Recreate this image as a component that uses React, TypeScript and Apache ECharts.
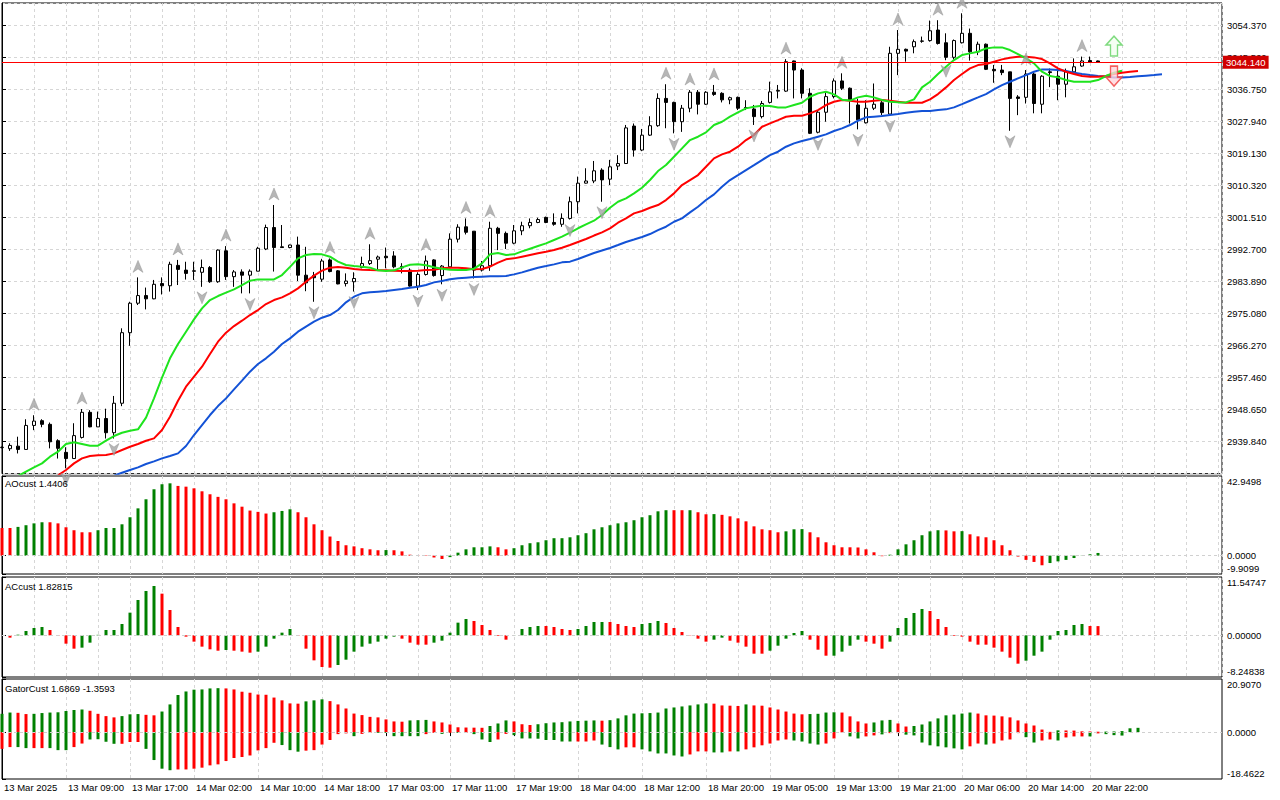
import React, { useEffect, useRef } from "react";
import * as echarts from "echarts";

// ---------- data ----------
const timeLabels = [
  "13 Mar 2025", "13 Mar 09:00", "13 Mar 17:00", "14 Mar 02:00", "14 Mar 10:00", "14 Mar 18:00",
  "17 Mar 03:00", "17 Mar 11:00", "17 Mar 19:00", "18 Mar 04:00", "18 Mar 12:00", "18 Mar 20:00",
  "19 Mar 05:00", "19 Mar 13:00", "19 Mar 21:00", "20 Mar 06:00", "20 Mar 14:00", "20 Mar 22:00",
];

// [open, close, low, high] per H1 bar
const ohlc: number[][] = [
  [2938.2, 2938.3, 2938.0, 2938.5], [2937.9, 2938.8, 2937.3, 2939.4], [2938.6, 2937.7, 2936.6, 2941.2], [2937.7, 2944.3, 2937.7, 2946.0],
  [2944.3, 2945.5, 2943.0, 2947.1], [2945.6, 2944.6, 2943.8, 2946.0], [2944.6, 2939.8, 2938.0, 2945.1], [2940.1, 2938.0, 2935.2, 2940.5],
  [2936.9, 2935.2, 2932.5, 2938.3], [2935.2, 2941.5, 2935.2, 2944.9], [2941.0, 2947.9, 2940.7, 2948.8], [2947.9, 2943.9, 2943.8, 2948.5],
  [2943.9, 2946.2, 2943.9, 2948.1], [2946.2, 2942.3, 2940.7, 2948.9], [2942.3, 2950.4, 2940.7, 2952.4], [2950.4, 2969.8, 2949.6, 2971.0],
  [2969.8, 2977.9, 2966.2, 2978.3], [2977.9, 2980.0, 2977.4, 2985.0], [2980.0, 2979.1, 2976.2, 2982.2], [2979.1, 2983.1, 2979.0, 2984.3],
  [2983.3, 2982.7, 2980.3, 2985.0], [2982.7, 2988.6, 2981.1, 2989.3], [2988.3, 2987.2, 2982.9, 2989.8], [2987.0, 2986.1, 2984.4, 2989.3],
  [2986.8, 2986.7, 2984.3, 2989.3], [2986.4, 2987.7, 2982.4, 2989.9], [2987.7, 2983.8, 2983.5, 2988.1], [2983.8, 2992.5, 2983.5, 2992.7],
  [2992.3, 2985.2, 2984.3, 2993.6], [2985.2, 2986.5, 2982.4, 2987.0], [2986.5, 2985.6, 2980.6, 2987.2], [2985.6, 2986.7, 2980.6, 2987.2],
  [2986.7, 2993.0, 2986.7, 2993.4], [2992.8, 2998.7, 2992.5, 2999.5], [2998.7, 2993.2, 2986.6, 3004.9], [2993.4, 2993.2, 2993.2, 2999.4],
  [2993.2, 2993.9, 2993.0, 2994.0], [2993.9, 2985.6, 2984.0, 2996.2], [2985.6, 2983.5, 2981.2, 2993.4], [2985.5, 2984.9, 2978.3, 2986.5],
  [2984.5, 2989.5, 2983.8, 2990.1], [2989.8, 2986.6, 2986.4, 2990.2], [2986.8, 2983.2, 2983.1, 2987.0], [2983.3, 2984.0, 2982.5, 2986.1],
  [2983.8, 2984.7, 2981.1, 2986.4], [2987.7, 2988.8, 2987.5, 2990.7], [2988.8, 2989.6, 2988.4, 2994.1], [2990.0, 2990.6, 2987.0, 2991.0],
  [2990.8, 2990.4, 2987.5, 2993.2], [2990.9, 2987.9, 2987.5, 2992.2], [2988.0, 2987.6, 2986.1, 2988.9], [2987.0, 2982.6, 2982.4, 2987.5],
  [2982.6, 2985.8, 2981.5, 2986.4], [2985.8, 2989.5, 2985.5, 2991.0], [2989.8, 2985.5, 2985.2, 2990.0], [2985.5, 2988.1, 2983.1, 2988.4],
  [2987.9, 2995.5, 2987.5, 2997.1], [2995.5, 2998.8, 2994.6, 2999.6], [2998.9, 2997.4, 2996.8, 3001.2], [2997.7, 2987.0, 2984.7, 2997.7],
  [2987.0, 2988.2, 2986.6, 2989.5], [2988.2, 2998.5, 2986.8, 3000.3], [2998.5, 2997.1, 2992.5, 2998.9], [2997.1, 2994.4, 2992.8, 2997.6],
  [2994.4, 2997.8, 2994.1, 2999.4], [2997.8, 2999.2, 2996.6, 3000.3], [2999.2, 3000.1, 2998.5, 3001.2], [3000.1, 3000.9, 2999.9, 3001.4],
  [3001.5, 3000.1, 2999.9, 3001.7], [3000.1, 2999.6, 2999.2, 3002.6], [2999.6, 3001.2, 2998.9, 3002.6], [3001.2, 3005.8, 3000.9, 3007.2],
  [3005.8, 3010.9, 3002.6, 3012.7], [3010.9, 3011.5, 3010.8, 3015.0], [3011.5, 3014.3, 3010.9, 3017.0], [3014.5, 3011.8, 3005.8, 3015.0],
  [3012.0, 3015.4, 3010.4, 3017.3], [3015.6, 3016.3, 3014.5, 3018.6], [3016.3, 3026.1, 3016.3, 3026.9], [3026.6, 3020.0, 3018.2, 3027.3],
  [3020.0, 3024.1, 3019.7, 3025.8], [3024.1, 3026.7, 3023.9, 3029.3], [3026.7, 3034.2, 3026.4, 3035.6], [3034.2, 3033.1, 3026.0, 3038.1],
  [3033.1, 3027.8, 3024.6, 3033.3], [3027.8, 3031.5, 3025.0, 3032.4], [3031.5, 3035.9, 3030.4, 3036.5], [3035.9, 3032.6, 3029.8, 3036.5],
  [3032.6, 3035.9, 3032.4, 3036.2], [3035.9, 3035.3, 3034.9, 3037.9], [3035.6, 3033.8, 3033.1, 3035.9], [3033.8, 3034.4, 3032.6, 3034.7],
  [3034.5, 3031.5, 3031.0, 3034.7], [3031.7, 3031.6, 3031.0, 3033.7], [3031.3, 3029.2, 3026.9, 3032.4], [3029.2, 3032.8, 3028.7, 3033.5],
  [3033.1, 3036.0, 3032.8, 3038.8], [3036.2, 3036.4, 3034.2, 3037.9], [3036.2, 3044.3, 3036.0, 3045.0], [3044.5, 3042.0, 3034.2, 3044.6],
  [3042.0, 3035.6, 3034.2, 3042.5], [3035.6, 3024.6, 3024.4, 3037.0], [3024.9, 3030.4, 3024.6, 3031.0], [3030.4, 3034.7, 3027.8, 3036.0],
  [3034.7, 3039.0, 3034.2, 3039.7], [3039.0, 3037.0, 3036.5, 3041.1], [3037.0, 3033.7, 3027.3, 3037.2], [3032.4, 3028.3, 3025.7, 3034.1],
  [3027.5, 3031.5, 3027.3, 3033.7], [3031.5, 3032.6, 3031.0, 3038.3], [3033.0, 3030.3, 3029.6, 3033.7], [3029.9, 3046.6, 3029.6, 3048.4],
  [3046.6, 3047.7, 3040.6, 3053.0], [3047.7, 3047.2, 3044.3, 3047.9], [3048.4, 3049.8, 3046.6, 3050.4], [3049.9, 3050.0, 3049.5, 3051.2],
  [3050.1, 3052.8, 3049.8, 3055.6], [3053.0, 3049.3, 3049.0, 3055.7], [3049.5, 3045.5, 3044.7, 3052.1], [3045.5, 3050.1, 3044.9, 3050.4],
  [3049.5, 3052.1, 3049.3, 3057.6], [3052.1, 3047.0, 3044.6, 3053.4], [3047.0, 3049.1, 3046.1, 3049.8], [3049.1, 3042.2, 3042.0, 3049.3],
  [3042.2, 3041.8, 3038.5, 3043.4], [3042.0, 3041.3, 3040.6, 3043.4], [3041.5, 3034.2, 3025.3, 3041.5], [3034.6, 3034.2, 3029.6, 3035.1],
  [3034.5, 3040.9, 3032.8, 3042.0], [3040.9, 3032.8, 3030.1, 3041.3], [3032.6, 3040.3, 3030.1, 3040.6], [3041.5, 3041.3, 3037.3, 3042.4],
  [3040.3, 3038.1, 3033.7, 3042.9], [3038.1, 3041.5, 3034.5, 3042.4], [3041.5, 3042.9, 3041.3, 3045.2], [3043.1, 3044.5, 3042.9, 3045.7],
  [3044.6, 3044.2, 3044.2, 3045.7], [3044.5, 3044.14, 3044.0, 3044.6],
];

const lastPrice = 3044.14;

// Alligator (values already shifted forward, first value belongs to bar *Start)
const lipsStart = 2;
const lips = [
  2930.4, 2931.58, 2932.77, 2933.87, 2935.71, 2937.08, 2939.19, 2939.65,
  2939.19, 2938.73, 2938.73, 2940.10, 2941.39, 2942.30, 2942.85, 2943.22, 2946.43, 2951.74,
  2957.42, 2962.74, 2966.68, 2970.07, 2973.46, 2976.48, 2978.77, 2979.87, 2980.79, 2981.70,
  2982.90, 2984.09, 2984.45, 2984.45, 2984.45, 2985.65, 2987.9, 2990.23, 2991.15, 2991.42,
  2991.33, 2990.69, 2989.32, 2988.40, 2988.12, 2987.94, 2987.67, 2986.93, 2986.75, 2986.93,
  2987.76, 2988.49, 2988.58, 2988.31, 2987.76, 2987.39, 2987.12, 2987.02, 2987.02, 2987.39,
  2988.86, 2991.33, 2991.70, 2991.15, 2991.33, 2992.16, 2992.89, 2993.62, 2994.35, 2995.27,
  2996.19, 2997.29, 2998.5, 2999.57, 3000.58, 3002.14, 3004.15, 3005.80, 3006.72, 3008.09,
  3009.65, 3011.76, 3014.23, 3015.88, 3018.17, 3020.46, 3022.75, 3023.67, 3024.86, 3026.88,
  3027.79, 3029.17, 3030.36, 3031.46, 3031.92, 3032.19, 3032.10, 3031.73, 3031.73, 3032.38,
  3033.02, 3034.67, 3035.58, 3036.04, 3035.31, 3033.85, 3033.6, 3034.48, 3034.94, 3034.48,
  3033.75, 3033.29, 3033.11, 3033.11, 3033.93, 3037.23, 3038.79, 3040.90, 3042.91, 3044.75,
  3046.12, 3046.58, 3047.04, 3047.95, 3048.23, 3048.23, 3047.50, 3046.40, 3045.20, 3043.83,
  3041.54, 3040.35, 3039.98, 3039.25, 3038.79, 3038.79, 3038.79, 3039.25, 3040.35, 3041.26,
  3041.81,
];
const teethStart = 7;
const teeth = [
  2930.6, 2932.04, 2933.87,
  2935.25, 2935.89, 2936.07, 2936.16, 2936.62, 2937.54, 2938.45, 2939.19, 2940.10, 2940.75,
  2943.04, 2946.70, 2951.10, 2954.95, 2957.70, 2960.45, 2963.93, 2967.32, 2969.79, 2971.62,
  2973.09, 2974.65, 2976.02, 2977.67, 2978.77, 2979.51, 2980.61, 2981.98, 2983.82, 2985.47,
  2986.84, 2987.67, 2987.85, 2987.67, 2987.30, 2987.12, 2987.02, 2986.93, 2986.93, 2986.84,
  2986.75, 2986.75, 2986.84, 2987.02, 2987.12, 2987.48, 2987.67, 2987.67, 2987.48, 2987.21,
  2987.30, 2987.94, 2989.04, 2989.96, 2990.23, 2990.69, 2991.15, 2991.61, 2992.06, 2992.52,
  2993.16, 2993.90, 2994.72, 2995.54, 2996.50, 2997.37, 2998.47, 3000.03, 3001.22, 3002.60,
  3003.24, 3004.15, 3004.89, 3006.26, 3008.09, 3010.38, 3011.76, 3013.13, 3015.42, 3017.71,
  3018.81, 3019.55, 3020.92, 3022.75, 3024.13, 3026.42, 3027.34, 3028.25, 3029.17, 3029.44,
  3029.44, 3030.08, 3031.00, 3032.38, 3033.29, 3033.75, 3033.57, 3033.29, 3033.29, 3033.57,
  3033.75, 3033.57, 3033.29, 3033.02, 3033.02, 3033.02, 3033.93, 3035.40, 3037.23, 3039.25,
  3040.90, 3042.46, 3043.37, 3043.65, 3044.29, 3044.93, 3045.39, 3045.66, 3045.66, 3045.48,
  3045.02, 3043.83, 3042.46, 3041.54, 3040.90, 3040.35, 3040.17, 3040.17, 3040.35, 3040.90,
  3041.26, 3041.54, 3041.72,
];
const jawStart = 14;
const jaw = [
  2930.5, 2931.31, 2932.04, 2932.77, 2933.69, 2934.42,
  2935.25, 2935.89, 2936.62, 2938.64, 2941.66, 2944.41, 2947.16, 2949.63, 2951.74, 2954.22,
  2956.60, 2959.07, 2961.18, 2962.74, 2964.57, 2966.68, 2968.23, 2970.07, 2971.45, 2972.82,
  2973.92, 2974.65, 2976.03, 2978.14, 2979.69, 2980.61, 2980.89, 2981.07, 2981.25, 2981.53,
  2981.80, 2982.17, 2982.44, 2982.90, 2983.63, 2984.00, 2984.46, 2984.73, 2984.92, 2985.10,
  2985.19, 2985.28, 2985.28, 2985.38, 2985.83, 2986.38, 2987.02, 2987.67, 2988.12, 2988.58,
  2989.13, 2989.32, 2990.04, 2990.87, 2991.69, 2992.38, 2993.07, 2993.89, 2994.72, 2995.40,
  2996.09, 2996.91, 2998.01, 2998.93, 3000.30, 3001.22, 3002.87, 3004.43, 3006.26, 3007.82,
  3009.93, 3011.76, 3013.13, 3014.51, 3015.88, 3017.26, 3018.63, 3019.55, 3020.92, 3021.84,
  3022.48, 3023.03, 3023.67, 3024.31, 3025.23, 3025.96, 3026.88, 3028.07, 3028.99, 3029.17,
  3029.35, 3029.63, 3029.90, 3030.27, 3030.54, 3030.73, 3030.73, 3031.00, 3031.19, 3031.74,
  3032.65, 3033.57, 3034.48, 3035.40, 3036.68, 3037.87, 3038.79, 3039.71, 3040.62, 3041.54,
  3042.18, 3042.18, 3042.00, 3041.72, 3041.26, 3040.90, 3040.62, 3040.35, 3040.17, 3039.98,
  3039.98, 3040.07, 3040.26, 3040.44, 3040.62, 3040.81,
];

// Bill Williams fractals (bar indices)
const upFractals = [4, 10, 17, 22, 28, 34, 41, 46, 53, 58, 61, 83, 86, 89, 98, 105, 112, 117, 120, 128, 135];
const downFractals = [8, 14, 25, 31, 39, 44, 52, 55, 59, 71, 75, 84, 94, 102, 107, 111, 118, 126];

// signal arrows [bar, price]
const buySignal = [[139, 3048.6]];
const sellSignal = [[139, 3040.35]];

// Awesome Oscillator
const aoValues = [
  14.9, 14.9, 15.5, 16.4, 17.4, 18.0, 18.0, 17.4, 15.3, 13.7,
  12.6, 12.6, 13.7, 14.9, 14.9, 16.9, 20.7, 25.5, 30.4, 35.8,
  38.5, 39.0, 37.6, 37.2, 36.3, 34.7, 33.1, 31.7, 30.4, 28.2,
  26.4, 24.3, 23.6, 22.7, 23.4, 24.1, 25.0, 23.4, 20.7, 16.9,
  13.7, 10.3, 7.9, 5.6, 5.0, 4.0, 3.4, 2.9, 3.0, 2.9,
  2.3, 0.5, 0.2, -0.2, -1.0, -1.8, -0.8, 1.6, 3.4, 4.5,
  4.5, 5.0, 4.5, 3.4, 4.0, 5.6, 6.7, 7.2, 8.3, 9.4,
  9.4, 9.9, 11.0, 12.1, 14.2, 15.3, 16.4, 17.4, 18.0, 19.1,
  20.7, 21.8, 23.9, 24.5, 24.5, 24.5, 24.5, 23.4, 22.3, 22.4,
  22.0, 21.2, 20.1, 18.5, 15.8, 14.2, 13.7, 12.6, 13.1, 14.2,
  14.3, 12.6, 9.9, 7.2, 5.6, 4.5, 4.5, 4.4, 3.4, 1.8,
  -0.3, 0.5, 3.4, 6.1, 8.3, 11.0, 13.1, 13.7, 13.6, 13.1,
  13.2, 11.5, 10.4, 9.9, 8.3, 5.6, 2.9, -0.5, -2.3, -3.4,
  -5.2, -4.0, -3.1, -2.3, -1.3, 0.1, 0.7, 1.4406,
];
const aoColors =
  "RRGGGGRRRRRRGGGGGGGGGGRRRRRRRRRRRRGGGRRRRRRRRRRRGRRRRRRRGGGGGGRRGGGGGG" +
  "GGGGGGGGGGGGGGRRGRRGRRRRRRRRGGGRRRRRRRRRRGGGGGGGRRGRRRRRRRRRRGGGGGGG";

// Accelerator Oscillator
const acValues: (number | null)[] = [
  null, -0.46, 0.13, 0.86, 1.45, 1.65, 1.06, -0.1, -1.65, -2.64,
  -2.44, -1.45, 0.1, 1.06, 1.06, 2.24, 4.49, 7.0, 8.78, 9.77,
  8.25, 5.02, 1.65, -0.26, -1.25, -2.24, -2.77, -3.04, -2.90, -3.04,
  -3.23, -3.43, -3.23, -2.24, -0.66, 0.53, 1.25, -0.1, -2.64, -4.95,
  -6.27, -6.40, -5.87, -4.82, -3.23, -2.24, -1.65, -1.25, -0.66, -0.26,
  -0.66, -1.45, -1.85, -1.85, -1.45, -1.06, 0.53, 2.51, 3.23, 2.84,
  2.05, 1.06, -0.13, -0.86, 0.05, 1.25, 1.65, 1.85, 1.85, 1.65,
  1.25, 1.06, 1.25, 1.85, 2.64, 2.64, 2.64, 2.24, 1.85, 1.65,
  2.24, 2.44, 2.84, 2.44, 1.45, 0.66, -0.05, -0.66, -1.25, -0.86,
  -0.46, -1.06, -1.45, -2.24, -3.63, -3.63, -3.04, -2.05, -0.66, 0.46,
  0.86, -0.86, -2.84, -4.03, -4.03, -3.23, -2.05, -0.86, -1.25, -1.65,
  -2.64, -1.25, 1.45, 3.43, 4.42, 5.21, 4.82, 3.23, 1.65, -0.13,
  -0.26, -1.25, -1.85, -1.85, -2.44, -3.23, -4.42, -5.61, -5.02, -4.03,
  -3.23, -0.86, 0.86, 1.06, 2.05, 2.24, 1.85, 1.82815,
];
const acColors =
  "RRGGGGRRRRGGGGGGGGGGRRRRRRRRGRRRGGGGGRRRRRGGGGGGGGRRRRGGGGGRRRRRGGGGRR" +
  "RRGGGGRRRRGGGRRRRRRGGRRRRRGGGGGRRRGGGGRRRGGGGGRRRRRRRRRRRRGGGGGGGGRR";

// Gator oscillator
const gatorUp = [
  7.2, 7.7, 7.6, 7.1, 7.2, 7.5, 7.7, 7.8, 8.3, 8.7,
  8.9, 8.4, 7.2, 6.3, 5.8, 6.3, 7.0, 7.1, 6.8, 6.6,
  8.1, 10.9, 14.6, 16.0, 16.7, 16.8, 17.2, 17.3, 17.2, 16.8,
  15.9, 15.5, 14.8, 14.7, 13.6, 12.5, 11.3, 11.2, 12.1, 12.5,
  12.9, 12.2, 10.9, 9.3, 7.3, 6.7, 6.0, 5.8, 5.0, 4.2,
  4.1, 4.6, 4.7, 4.8, 4.2, 3.8, 3.0, 1.9, 1.8, 1.75,
  1.7, 2.4, 3.4, 4.6, 4.2, 3.1, 2.8, 3.1, 3.5, 3.8,
  3.9, 4.2, 4.4, 4.5, 4.6, 4.5, 4.7, 5.4, 6.6, 7.3,
  7.4, 7.5, 7.7, 9.3, 9.7, 10.1, 10.5, 10.9, 11.3, 11.2,
  10.5, 10.4, 10.3, 10.9, 10.5, 10.4, 9.7, 8.9, 8.1, 7.3,
  7.0, 7.1, 7.2, 7.7, 7.8, 7.7, 6.2, 4.2, 3.4, 3.8,
  4.6, 4.8, 3.4, 2.2, 2.4, 3.0, 4.2, 5.4, 6.6, 6.9,
  7.3, 7.7, 7.3, 6.6, 6.5, 6.2, 5.8, 4.6, 3.4, 2.6,
  1.0, 0.1, 0.7, 0.65, 0.6, 0.3, 0.25, 0.15, 0.2, 0.25,
  0.4, 1.5, 1.6869,
];
const gatorUpColors =
  "GGRRGGGGGGGRRRRGGGRRGGGGGGGGRRRRRRRRRRGGGRRRRRRRRRRGGGRRRRRRRGGGRRRGGG" +
  "GGGGGRGGGGGGGGGGGGGRRRRGRRRRRRRGGGGRRRRGGGRRGGGGGGGGRRRRRRRRRRGRRRRRGGGGG";
const gatorDown = [
  -6.6, -5.9, -5.9, -6.3, -6.3, -6.3, -6.3, -7.1, -7.1, -5.9,
  -4.5, -2.9, -2.8, -3.8, -4.6, -4.6, -3.9, -3.9, -6.6, -11.0,
  -14.4, -15.0, -14.7, -14.7, -14.4, -14.0, -13.1, -12.7, -11.4, -10.2,
  -9.8, -9.2, -7.2, -6.3, -4.2, -5.1, -7.1, -7.7, -7.3, -7.1,
  -4.9, -3.1, -0.8, -0.5, -1.6, -0.7, -0.3, -0.3, -0.3, -1.6,
  -1.6, -1.6, -1.6, -0.8, -0.3, -0.7, -0.3, -0.3, -0.3, -0.8,
  -2.9, -3.9, -2.9, -0.7, -1.2, -2.5, -2.5, -2.6, -3.1, -3.1,
  -3.7, -3.7, -3.7, -3.7, -3.3, -4.9, -5.9, -6.8, -6.0, -6.0,
  -6.8, -7.6, -8.4, -8.4, -9.2, -9.6, -8.8, -7.6, -7.6, -8.0,
  -8.0, -7.6, -7.6, -6.8, -6.0, -5.2, -4.5, -3.3, -2.9, -3.3,
  -3.7, -4.5, -4.9, -4.5, -2.5, -0.1, -1.7, -2.5, -1.7, -1.3,
  -0.9, -0.4, -0.4, -1.0, -1.3, -4.1, -5.2, -5.6, -6.0, -6.4,
  -6.8, -5.6, -4.5, -4.9, -4.5, -3.3, -2.9, -0.4, -2.0, -4.1,
  -3.3, -2.9, -3.3, -2.1, -1.7, -1.7, -1.7, -0.5, -0.8, -1.2,
  -1.3593,
];
const gatorDownColors =
  "RRGGRRGGGRRGGGGRRRGGGGRRRRRRRRRRRRRGGGRRRRRRGRRGGGGGGRRGRGRGGGRRGGGGGG" +
  "GGRRRGGGRRGGGGGGRRRGGRGRRRRRRGGGGRRRGGRRGRRGGGGGGGGRRGRRRRGGRRGRRRGRGGG";

// ---------- styling ----------
const FONT = '"Liberation Sans", Arial, sans-serif';
const FS = 9.5;
const GREEN = "#008000";
const RED = "#ff0000";
const GRIDC = "#d6d6d6";
const XMAX = 152.5;

const colorOf = (c: string) => (c === "G" ? GREEN : RED);
const labelBars = timeLabels.map((_, i) => i * 8);

const gridBox = { left: 2, right: 58, show: true, borderColor: "#000", borderWidth: 1, backgroundColor: "#fff" };

function makeXAxis(i: number) {
  const bottom = i === 3;
  return {
    type: "value",
    gridIndex: i,
    min: 0,
    max: XMAX,
    interval: 4,
    axisLine: { show: false },
    axisTick: bottom
      ? { show: true, customValues: labelBars, length: 4, lineStyle: { color: "#000" } }
      : { show: false },
    axisLabel: bottom
      ? {
          show: true,
          customValues: labelBars,
          formatter: (v: number) => timeLabels[Math.round(v / 8)] ?? "",
          align: "left",
          padding: [0, 0, 0, 2],
          margin: 3,
          color: "#000",
          fontSize: FS,
          fontFamily: FONT,
        }
      : { show: false },
    splitLine: { show: true, lineStyle: { color: GRIDC, type: [3, 3], width: 1 } },
  };
}

function makeSubY(i: number, min: number, max: number, dec: number) {
  const vals = [min, 0, max];
  const txt = { fontSize: FS, fontFamily: FONT, color: "#000" };
  return {
    type: "value",
    gridIndex: i,
    position: "right",
    min,
    max,
    axisLine: { show: true, lineStyle: { color: "#000" } },
    axisTick: { show: true, customValues: vals, length: 4, lineStyle: { color: "#000" } },
    axisLabel: {
      customValues: vals,
      showMinLabel: true,
      showMaxLabel: true,
      margin: 5,
      ...txt,
      formatter: (v: number) => {
        const s = v.toFixed(dec);
        if (Math.abs(v - max) < 1e-9) return `{t|${s}}`;
        if (Math.abs(v - min) < 1e-9) return `{b|${s}}`;
        return s;
      },
      rich: { t: { ...txt, padding: [10, 0, 0, 0] }, b: { ...txt, padding: [0, 0, 11, 0] } },
    },
    splitLine: { show: false },
  };
}

const zeroLine = {
  silent: true,
  symbol: ["none", "none"],
  label: { show: false },
  lineStyle: { color: "#d0d0d0", type: [3, 3], width: 1 },
  data: [{ yAxis: 0 }],
};

const lineSeries = (name: string, start: number, vals: number[], color: string) => ({
  name,
  type: "line",
  xAxisIndex: 0,
  yAxisIndex: 0,
  data: vals.map((v, i) => [i + start, v]),
  showSymbol: false,
  symbol: "none",
  lineStyle: { width: 2, color },
  z: 3,
});

const histItems = (vals: (number | null)[], colors: string) =>
  vals
    .map((v, i) => (v == null ? null : { value: [i, v], itemStyle: { color: colorOf(colors[i]) } }))
    .filter((d) => d != null);

const UP_FRACTAL = "path://M5,0 L10,12 L5,8.5 L0,12 Z";
const DOWN_FRACTAL = "path://M0,0 L5,3.5 L10,0 L5,12 Z";
const UP_ARROW = "path://M8,0 L16,9 L11.5,9 L11.5,20 L4.5,20 L4.5,9 L0,9 Z";
const DOWN_ARROW = "path://M4.5,0 L11.5,0 L11.5,11 L16,11 L8,20 L0,11 L4.5,11 Z";

const titleStyle = { fontSize: FS, fontWeight: "normal", color: "#000", fontFamily: FONT };

const option = {
  animation: false,
  backgroundColor: "#fff",
  title: [
    { text: "AOcust 1.4406", left: 5, top: 478.5, padding: 0, textStyle: titleStyle },
    { text: "ACcust 1.82815", left: 5, top: 581, padding: 0, textStyle: titleStyle },
    { text: "GatorCust 1.6869 -1.3593", left: 5, top: 683, padding: 0, textStyle: titleStyle },
  ],
  grid: [
    { ...gridBox, top: 3, height: 470.7 },
    { ...gridBox, top: 476, height: 98 },
    { ...gridBox, top: 577, height: 100 },
    { ...gridBox, top: 679, height: 100 },
  ],
  xAxis: [0, 1, 2, 3].map(makeXAxis),
  yAxis: [
    {
      type: "value",
      gridIndex: 0,
      position: "right",
      min: 2931.03,
      max: 3060.43,
      interval: 8.81,
      axisLine: { show: true, lineStyle: { color: "#000" } },
      axisTick: { show: true, length: 4, lineStyle: { color: "#000" } },
      axisLabel: {
        showMinLabel: false,
        showMaxLabel: false,
        margin: 5,
        color: "#000",
        fontSize: FS,
        fontFamily: FONT,
        formatter: (v: number) => v.toFixed(3),
      },
      splitLine: { show: true, lineStyle: { color: GRIDC, type: [3, 3], width: 1 } },
    },
    makeSubY(1, -9.9099, 42.9498, 4),
    makeSubY(2, -8.24838, 11.54747, 5),
    makeSubY(3, -18.4622, 20.907, 4),
  ],
  series: [
    {
      name: "XAUUSD",
      type: "candlestick",
      xAxisIndex: 0,
      yAxisIndex: 0,
      barWidth: 4,
      data: ohlc.map((r, i) => [i, r[0], r[1], r[2], r[3]]),
      itemStyle: { color: "#fff", color0: "#000", borderColor: "#000", borderColor0: "#000", borderWidth: 1 },
      markLine: {
        silent: true,
        symbol: ["none", "none"],
        lineStyle: { color: "#ff0000", width: 1, type: "solid" },
        label: {
          show: true,
          position: "end",
          distance: 1,
          formatter: lastPrice.toFixed(3),
          color: "#fff",
          backgroundColor: "#d00000",
          padding: [2, 3, 1, 3],
          fontSize: FS,
          fontFamily: FONT,
        },
        data: [{ yAxis: lastPrice }],
      },
    },
    lineSeries("Jaw", jawStart, jaw, "#1352d6"),
    lineSeries("Teeth", teethStart, teeth, "#ff0000"),
    lineSeries("Lips", lipsStart, lips, "#1ee41e"),
    {
      name: "FractalUp",
      type: "scatter",
      xAxisIndex: 0,
      yAxisIndex: 0,
      symbol: UP_FRACTAL,
      symbolSize: [10, 12],
      symbolOffset: [0, -11],
      itemStyle: { color: "#a4a4a4", borderColor: "#8a8a8a", borderWidth: 0.5 },
      data: upFractals.map((b) => [b, ohlc[b][3]]),
      z: 4,
    },
    {
      name: "FractalDown",
      type: "scatter",
      xAxisIndex: 0,
      yAxisIndex: 0,
      symbol: DOWN_FRACTAL,
      symbolSize: [10, 12],
      symbolOffset: [0, 11],
      itemStyle: { color: "#a4a4a4", borderColor: "#8a8a8a", borderWidth: 0.5 },
      data: downFractals.map((b) => [b, ohlc[b][2]]),
      z: 4,
    },
    {
      name: "Buy",
      type: "scatter",
      xAxisIndex: 0,
      yAxisIndex: 0,
      symbol: UP_ARROW,
      symbolSize: [16, 20],
      itemStyle: { color: "#f2fff0", borderColor: "#62d262", borderWidth: 1.5 },
      data: buySignal,
      z: 5,
    },
    {
      name: "Sell",
      type: "scatter",
      xAxisIndex: 0,
      yAxisIndex: 0,
      symbol: DOWN_ARROW,
      symbolSize: [16, 20],
      itemStyle: { color: "#ffd6dc", borderColor: "#f03c3c", borderWidth: 1.5 },
      data: sellSignal,
      z: 5,
    },
    {
      name: "AO",
      type: "bar",
      xAxisIndex: 1,
      yAxisIndex: 1,
      barWidth: 3,
      data: histItems(aoValues, aoColors),
      markLine: zeroLine,
    },
    {
      name: "AC",
      type: "bar",
      xAxisIndex: 2,
      yAxisIndex: 2,
      barWidth: 3,
      data: histItems(acValues, acColors),
      markLine: zeroLine,
    },
    {
      name: "GatorUp",
      type: "bar",
      xAxisIndex: 3,
      yAxisIndex: 3,
      stack: "gator",
      barWidth: 3,
      data: histItems(gatorUp, gatorUpColors),
      markLine: zeroLine,
    },
    {
      name: "GatorDown",
      type: "bar",
      xAxisIndex: 3,
      yAxisIndex: 3,
      stack: "gator",
      barWidth: 3,
      data: histItems(gatorDown, gatorDownColors),
    },
  ],
};

export default function App() {
  const ref = useRef<HTMLDivElement>(null);
  useEffect(() => {
    document.body.style.margin = "0";
    const chart = echarts.init(ref.current!, null, { renderer: "svg" });
    chart.setOption(option as any);
    return () => chart.dispose();
  }, []);
  return (
    <div
      ref={ref}
      style={{ position: "fixed", left: 0, top: 0, width: 1280, height: 800, background: "#fff" }}
    />
  );
}
